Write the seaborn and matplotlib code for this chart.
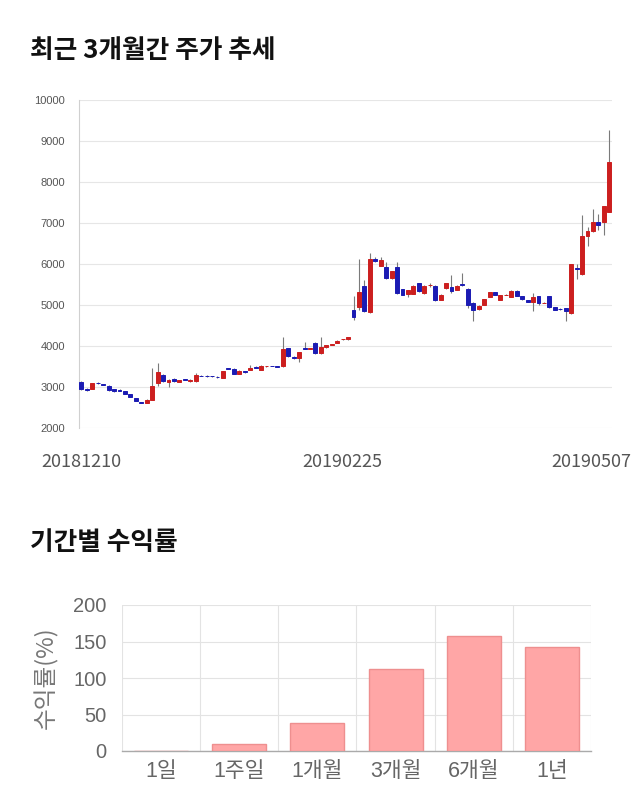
import numpy as np
import pandas as pd
import matplotlib
matplotlib.use("Agg")
import matplotlib.pyplot as plt
from matplotlib.transforms import ScaledTranslation
import seaborn as sns

sns.set_theme(style="white")
plt.rcParams["font.family"] = ["Noto Sans CJK KR", "DejaVu Sans"]

# ---- candlestick data (daily OHLC, 2018-12-10 .. 2019-05-07) ----
opens = [3130, 2960, 2960, 3100, 3070, 3030, 2950, 2920, 2900, 2830,
         2730, 2630, 2620, 2690, 3100, 3300, 3110, 3200, 3130, 3190,
         3140, 3140, 3280, 3280, 3265, 3250, 3217, 3460, 3450, 3320,
         3390, 3420, 3490, 3420, 3500, 3510, 3500, 3500, 3940, 3740,
         3700, 3940, 3930, 4080, 3820, 3970, 4030, 4080, 4160, 4160,
         4870, 4950, 5475, 4820, 6120, 5960, 5920, 5650, 5935, 5390,
         5265, 5270, 5530, 5290, 5490, 5470, 5130, 5410, 5450, 5370,
         5500, 5400, 5060, 4900, 5000, 5200, 5310, 5120, 5250, 5200,
         5350, 5220, 5120, 5080, 5220, 5060, 5220, 4940, 4910, 4925,
         4800, 5900, 5760, 6690, 6800, 7015, 7015, 7270]
closes = [2950, 2930, 3090, 3090, 3050, 2920, 2900, 2910, 2830, 2765,
          2670, 2620, 2690, 3030, 3360, 3140, 3180, 3140, 3170, 3180,
          3180, 3300, 3270, 3265, 3260, 3240, 3380, 3440, 3320, 3400,
          3360, 3460, 3475, 3520, 3500, 3505, 3495, 3920, 3760, 3700,
          3850, 3930, 3940, 3820, 3970, 4020, 4050, 4130, 4160, 4210,
          4710, 5305, 4845, 6120, 6065, 6100, 5650, 5830, 5290, 5250,
          5355, 5475, 5330, 5475, 5490, 5110, 5250, 5530, 5350, 5470,
          5480, 5010, 4890, 4985, 5140, 5310, 5245, 5240, 5250, 5350,
          5220, 5140, 5080, 5190, 5040, 5060, 4940, 4890, 4900, 4860,
          6000, 5875, 6680, 6800, 7015, 6960, 7410, 8480]
highs = [3150, 2970, 3100, 3120, 3080, 3040, 2960, 2960, 2910, 2840,
         2740, 2640, 2700, 3475, 3580, 3310, 3190, 3230, 3180, 3200,
         3190, 3350, 3290, 3290, 3275, 3260, 3390, 3470, 3460, 3410,
         3400, 3540, 3500, 3530, 3510, 3520, 3510, 4210, 3950, 3750,
         3860, 4100, 3950, 4090, 4220, 4030, 4060, 4140, 4170, 4220,
         5210, 6110, 5610, 6280, 6170, 6180, 6050, 5840, 6060, 5400,
         5365, 5485, 5540, 5485, 5530, 5480, 5260, 5540, 5720, 5480,
         5770, 5410, 5070, 4995, 5150, 5320, 5320, 5250, 5260, 5360,
         5360, 5230, 5130, 5290, 5230, 5070, 5230, 4950, 4920, 4935,
         6010, 6000, 7195, 6900, 7330, 7210, 7420, 9270]
lows = [2930, 2900, 2950, 3080, 3040, 2910, 2890, 2900, 2820, 2750,
        2660, 2600, 2610, 2680, 3020, 3120, 3010, 3130, 3120, 3170,
        3130, 3130, 3260, 3250, 3250, 3230, 3210, 3430, 3310, 3310,
        3350, 3410, 3460, 3410, 3490, 3500, 3490, 3490, 3740, 3690,
        3620, 3920, 3920, 3810, 3810, 3960, 4020, 4070, 4150, 4150,
        4645, 4890, 4840, 4810, 6050, 5950, 5640, 5640, 5280, 5240,
        5200, 5260, 5320, 5280, 5440, 5090, 5120, 5400, 5300, 5360,
        5470, 4930, 4620, 4890, 4990, 5190, 5235, 5110, 5240, 5190,
        5210, 5130, 5070, 4860, 5000, 5050, 4930, 4880, 4890, 4610,
        4790, 5630, 5740, 6440, 6790, 6830, 6700, 7260]
date_tick_pos = [0, 48, 97]
date_tick_labels = ["20181210", "20190225", "20190507"]
price_ticks = [2000, 3000, 4000, 5000, 6000, 7000, 8000, 9000, 10000]

# ---- period returns ----
periods = ["1일", "1주일", "1개월", "3개월", "6개월", "1년"]
returns = [0, 10, 39, 112, 157, 142]
return_ticks = [0, 50, 100, 150, 200]

W, H = 640, 810
fig = plt.figure(figsize=(W / 100, H / 100), dpi=100)
fig.patch.set_facecolor("white")

# titles
fig.text(30 / W, 1 - 50 / H, "최근 3개월간 주가 추세", fontsize=18.5, fontweight="bold",
         ha="left", va="center", color="#111111")
fig.text(30 / W, 1 - 543 / H, "기간별 수익률", fontsize=18.5, fontweight="bold",
         ha="left", va="center", color="#111111")

# ---- candlestick chart ----
ax1 = fig.add_axes([79 / W, 1 - 428 / H, 533 / W, 328 / H])
df = pd.DataFrame({"o": opens, "c": closes, "h": highs, "l": lows})
df["x"] = np.arange(len(df))
up = df["c"] >= df["o"]
cols = np.where(up, "#cc1f1f", "#1b1bb3")
ax1.vlines(df["x"], df["l"], df["h"], color="#7a7a7a", lw=0.8, zorder=2)
bottoms = np.minimum(df["o"], df["c"])
heights = np.abs(df["c"] - df["o"])
ax1.bar(df["x"], heights, bottom=bottoms, width=0.72, color=cols, edgecolor=cols,
        linewidth=0.7, zorder=3)
ax1.set_xlim(-0.45, len(df) - 0.5)
ax1.set_ylim(2000, 10000)
ax1.set_yticks(price_ticks)
ax1.set_yticklabels([str(v) for v in price_ticks], family=["Liberation Sans", "DejaVu Sans"],
                    fontsize=8, color="#555555")
ax1.set_xticks(date_tick_pos)
ax1.set_xticklabels(date_tick_labels, fontsize=13, color="#555555")
ax1.tick_params(axis="x", length=0, pad=18)
ax1.tick_params(axis="y", length=8, width=0.8, color="#d0d0d0", pad=2)
ax1.grid(axis="y", color="#e6e6e6", lw=0.8)
ax1.set_axisbelow(True)
for s in ["top", "right", "bottom"]:
    ax1.spines[s].set_visible(False)
ax1.spines["left"].set_color("#d0d0d0")
ax1.spines["left"].set_linewidth(0.8)
lbls = ax1.get_xticklabels()
lbls[-1].set_transform(lbls[-1].get_transform() + ScaledTranslation(-18 / 100, 0, fig.dpi_scale_trans))

# ---- returns bar chart ----
ax2 = fig.add_axes([122 / W, 1 - 751 / H, 469 / W, 146 / H])
rdf = pd.DataFrame({"period": periods, "ret": returns})
sns.barplot(data=rdf, x="period", y="ret", ax=ax2, color="#ffa6a6", saturation=1,
            edgecolor="#ee8f8f", linewidth=1, width=0.69, zorder=3)
ax2.set_xlim(-0.5, len(periods) - 0.5)
ax2.set_ylim(0, 200)
ax2.set_yticks(return_ticks)
ax2.set_yticklabels([str(v) for v in return_ticks], family=["Liberation Sans", "DejaVu Sans"],
                    fontsize=14.5, color="#666666")
ax2.set_xticks(np.arange(len(periods)))
ax2.set_xticklabels(periods, family=["Liberation Sans", "Noto Sans CJK KR"],
                    fontsize=15.5, color="#666666")
ax2.set_xticks(np.arange(len(periods) + 1) - 0.5, minor=True)
ax2.tick_params(axis="x", which="major", length=0, pad=7)
ax2.tick_params(axis="x", which="minor", length=14, width=0.8, color="#e0e0e0")
ax2.tick_params(axis="y", length=9, width=0.8, color="#e0e0e0", pad=2)
ax2.grid(axis="y", which="major", color="#e3e3e3", lw=0.8)
ax2.grid(axis="x", which="minor", color="#e3e3e3", lw=0.8)
ax2.grid(axis="x", which="major", visible=False)
ax2.set_axisbelow(True)
for s in ["top", "right", "left"]:
    ax2.spines[s].set_visible(False)
ax2.spines["bottom"].set_color("#aaaaaa")
ax2.spines["bottom"].set_linewidth(1)
ax2.set_xlabel("")
ax2.set_ylabel("수익률(%)", fontsize=17, color="#777777")
ax2.yaxis.set_label_coords(-(122 - 58) / 469, 0.5)

fig.savefig("out.png", dpi=100, facecolor="white")
